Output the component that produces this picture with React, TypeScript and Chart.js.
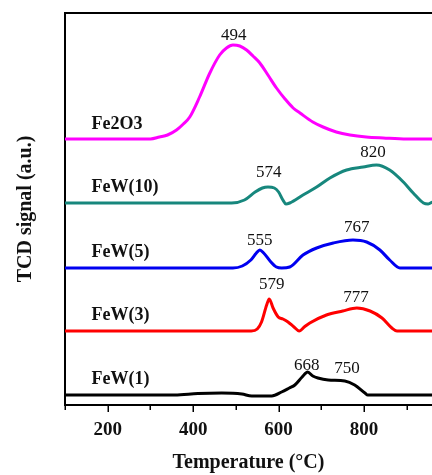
import React, { useEffect, useRef } from "react";
import { Chart, registerables } from "chart.js";

Chart.register(...registerables);

// Temperature (°C) and TCD signal (a.u., stacked offset)
const T_FE2O3 = [100, 300, 321, 340, 361, 377, 392, 415, 439, 462, 478, 493, 509, 525, 540, 556, 575, 595, 615, 634, 650, 680, 704, 735, 767, 805, 845, 900, 960];
const S_FE2O3 = [266, 266, 268, 270, 275, 281, 288, 308, 332, 350, 357, 360, 359, 355, 349, 342, 330, 317, 306, 297, 292, 283, 278, 273, 270, 268, 267, 266, 266];

const T_FEW10 = [100, 490, 520, 545, 562, 575, 590, 600, 610, 617, 626, 657, 689, 720, 759, 798, 829, 860, 892, 915, 939, 950, 960];
const S_FEW10 = [202, 202, 205, 213, 217, 218, 217, 213, 205, 201, 202, 210, 218, 227, 235, 238, 240, 235, 223, 212, 202, 201, 203];

const T_FEW5 = [100, 493, 515, 535, 548, 556, 565, 580, 595, 607, 626, 657, 689, 728, 774, 806, 837, 860, 884, 960];
const S_FEW5 = [137, 137, 139, 145, 152, 155, 152, 144, 138, 137, 138, 150, 157, 162, 165, 163, 155, 145, 137, 137];

const T_FEW3 = [100, 536, 550, 560, 572, 578, 587, 599, 610, 622, 636, 648, 660, 673, 712, 750, 783, 814, 842, 865, 877, 960];
const S_FEW3 = [74, 74, 76, 83, 100, 106, 97, 88, 86, 83, 78, 74, 78, 82, 90, 94, 97, 94, 87, 77, 74, 74];

const T_FEW1 = [100, 357, 411, 467, 514, 537, 584, 607, 625, 638, 655, 668, 680, 692, 716, 755, 778, 802, 809, 960];
const S_FEW1 = [10, 10, 11.5, 12, 11, 9, 9, 13, 17, 20, 28, 33, 29, 27, 25, 24, 20, 12, 10, 10];

const SERIES_NAMES = ["Fe2O3", "FeW(10)", "FeW(5)", "FeW(3)", "FeW(1)"];
const SERIES_COLORS = ["#ff00ff", "#17877d", "#0000f0", "#ff0000", "#000000"];
const NAME_T = 162;
const NAME_S = [281, 218, 153, 90, 26];

const PEAK_LABELS = ["494", "820", "574", "767", "555", "579", "777", "668", "750"];
const PEAK_T = [495, 821, 577, 783, 556, 584, 781, 666, 760];
const PEAK_S = [369, 252, 232, 177, 164, 120, 107, 39, 36];

const MAJOR_TICKS = [200, 400, 600, 800];
const MINOR_TICKS = [100, 300, 500, 700, 900];

const X_MIN = 100;
const X_MAX = 959;
const Y_MIN = 0;
const Y_MAX = 392;

const SERIF = "'Liberation Serif', 'Times New Roman', serif";

const toPoints = (xs: number[], ys: number[]) => xs.map((x, i) => ({ x, y: ys[i] }));

export default function App() {
  const canvasRef = useRef<HTMLCanvasElement | null>(null);

  useEffect(() => {
    const canvas = canvasRef.current;
    if (!canvas) return;

    const extras = {
      id: "extras",
      afterDraw(chart: any) {
        const { ctx, chartArea, scales } = chart;
        const xs = scales.x;
        const ys = scales.y;
        ctx.save();
        // top frame line
        ctx.strokeStyle = "#000";
        ctx.lineWidth = 2;
        ctx.beginPath();
        ctx.moveTo(chartArea.left - 1, chartArea.top);
        ctx.lineTo(chartArea.right, chartArea.top);
        ctx.stroke();
        // x ticks (outward)
        ctx.lineWidth = 1.5;
        const allTicks = [...MAJOR_TICKS, ...MINOR_TICKS];
        allTicks.forEach((t) => {
          const px = Math.round(xs.getPixelForValue(t)) + 0.25;
          const len = MAJOR_TICKS.includes(t) ? 7 : 5;
          ctx.beginPath();
          ctx.moveTo(px, chartArea.bottom);
          ctx.lineTo(px, chartArea.bottom + len);
          ctx.stroke();
        });
        // series names
        ctx.fillStyle = "#111";
        ctx.font = `bold 18px ${SERIF}`;
        ctx.textAlign = "left";
        ctx.textBaseline = "middle";
        SERIES_NAMES.forEach((n, i) => {
          ctx.fillText(n, xs.getPixelForValue(NAME_T), ys.getPixelForValue(NAME_S[i]));
        });
        // peak labels
        ctx.font = `17px ${SERIF}`;
        ctx.textAlign = "center";
        PEAK_LABELS.forEach((l, i) => {
          ctx.fillText(l, xs.getPixelForValue(PEAK_T[i]), ys.getPixelForValue(PEAK_S[i]));
        });
        ctx.restore();
      },
    };

    const datasets = [
      [T_FE2O3, S_FE2O3],
      [T_FEW10, S_FEW10],
      [T_FEW5, S_FEW5],
      [T_FEW3, S_FEW3],
      [T_FEW1, S_FEW1],
    ].map(([xs, ys], i) => ({
      label: SERIES_NAMES[i],
      data: toPoints(xs, ys),
      borderColor: SERIES_COLORS[i],
      borderWidth: 3,
      pointRadius: 0,
      fill: false,
      cubicInterpolationMode: "monotone" as const,
    }));

    const chart = new Chart(canvas, {
      type: "line",
      data: { datasets },
      options: {
        responsive: false,
        animation: false,
        layout: { padding: { top: 13, left: 0, right: 0, bottom: 0 } },
        plugins: { legend: { display: false }, tooltip: { enabled: false } },
        scales: {
          x: {
            type: "linear",
            min: X_MIN,
            max: X_MAX,
            grid: { display: false, drawTicks: false },
            border: { display: true, color: "#000", width: 2 },
            afterBuildTicks: (scale: any) => {
              scale.ticks = MAJOR_TICKS.map((v) => ({ value: v }));
            },
            afterFit: (scale: any) => {
              scale.height = 70;
            },
            ticks: {
              color: "#111",
              padding: 14,
              maxRotation: 0,
              autoSkip: false,
              font: { family: SERIF, size: 19, weight: "bold" },
              callback: (v: any) => String(v),
            },
            title: {
              display: true,
              text: "Temperature (°C)",
              color: "#111",
              padding: { top: 0, bottom: 0 },
              font: { family: SERIF, size: 20, weight: "bold" },
            },
          },
          y: {
            type: "linear",
            min: Y_MIN,
            max: Y_MAX,
            grid: { display: false, drawTicks: false },
            border: { display: true, color: "#000", width: 2 },
            ticks: { display: false },
            afterFit: (scale: any) => {
              scale.width = 65;
            },
            title: {
              display: true,
              text: "TCD signal (a.u.)",
              color: "#111",
              padding: { top: 14, bottom: 0 },
              font: { family: SERIF, size: 20, weight: "bold" },
            },
          },
        },
      },
      plugins: [extras],
    });

    return () => chart.destroy();
  }, []);

  return (
    <div style={{ position: "fixed", left: 0, top: 0, width: 432, height: 475, background: "#fff" }}>
      <canvas ref={canvasRef} width={432} height={475} />
    </div>
  );
}
